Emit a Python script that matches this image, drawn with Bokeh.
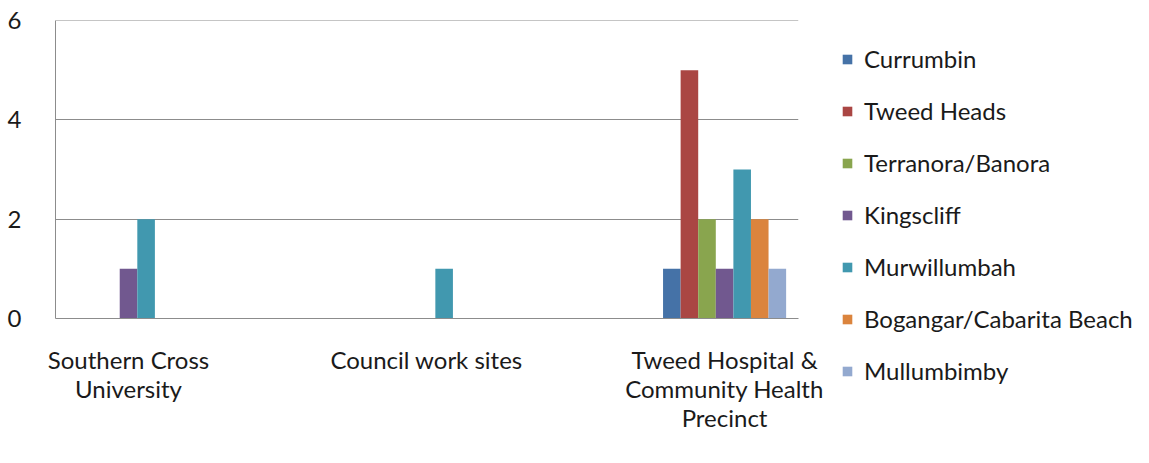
from bokeh.plotting import figure
from bokeh.models import Range1d, FixedTicker, Legend, LegendItem, ColumnDataSource
from bokeh.embed import file_html
from bokeh.resources import INLINE

categories = ["Southern Cross\nUniversity", "Council work sites",
              "Tweed Hospital &\nCommunity Health\nPrecinct"]
series = ["Currumbin", "Tweed Heads", "Terranora/Banora", "Kingscliff",
          "Murwillumbah", "Bogangar/Cabarita Beach", "Mullumbimby"]
currumbin = [0, 0, 1]
tweed_heads = [0, 0, 5]
terranora = [0, 0, 2]
kingscliff = [1, 0, 1]
murwillumbah = [2, 1, 3]
bogangar = [0, 0, 2]
mullumbimby = [0, 0, 1]
values = [currumbin, tweed_heads, terranora, kingscliff, murwillumbah, bogangar, mullumbimby]
colors = ["#4572A7", "#AA4643", "#89A54E", "#71588F", "#4198AF", "#DB843D", "#93A9CF"]

FONT = "Lato"
FS = "24px"
bar_w = 0.059

p = figure(frame_width=743, frame_height=298, output_backend="svg", toolbar_location=None,
           x_range=Range1d(-0.245, 2.248), y_range=Range1d(0, 6.002),
           min_border_left=55, min_border_top=20, min_border_bottom=140, min_border_right=20)
p.outline_line_color = None
p.background_fill_color = "white"

items = []
for j, (name, vals, col) in enumerate(zip(series, values, colors)):
    xs = [i + (j - 3) * bar_w for i in range(len(categories))]
    src = ColumnDataSource(dict(x=xs, top=vals))
    r = p.vbar(x="x", top="top", width=bar_w, source=src, fill_color=col, line_color=None)
    items.append(LegendItem(label=name, renderers=[r]))

p.xaxis.ticker = FixedTicker(ticks=[0, 1, 2])
p.xaxis.major_label_overrides = {i: c for i, c in enumerate(categories)}
p.xaxis.major_tick_line_color = None
p.xaxis.minor_tick_line_color = None
p.xaxis.axis_line_color = "#8c8c8c"
p.xaxis.major_label_text_font = FONT
p.xaxis.major_label_text_font_size = FS
p.xaxis.major_label_text_color = "#1a1a1a"
p.xaxis.major_label_text_line_height = 1.0
p.xaxis.major_label_standoff = 20
p.xgrid.grid_line_color = None

p.yaxis.ticker = FixedTicker(ticks=[0, 2, 4, 6])
p.yaxis.major_tick_line_color = None
p.yaxis.minor_tick_line_color = None
p.yaxis.axis_line_color = "#8c8c8c"
p.yaxis.major_label_text_font = FONT
p.yaxis.major_label_text_font_size = FS
p.yaxis.major_label_text_color = "#1a1a1a"
p.yaxis.major_label_standoff = 28
p.ygrid.grid_line_color = "#8c8c8c"
p.ygrid.grid_line_width = 1

legend = Legend(items=items, location=(43, -67), orientation="vertical",
                label_text_font=FONT, label_text_font_size=FS, label_text_color="#1a1a1a",
                glyph_width=12, glyph_height=12, label_height=20, spacing=23,
                label_standoff=11, padding=0, margin=0,
                border_line_color=None, background_fill_alpha=0)
p.add_layout(legend, "right")

open("out.html", "w").write(file_html(p, INLINE))
